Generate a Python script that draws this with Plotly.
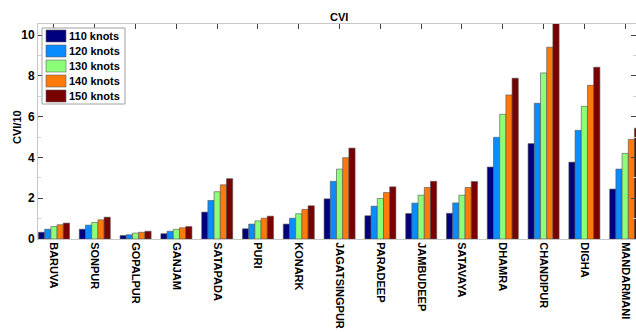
import plotly.graph_objects as go

sites = ["BARUVA", "SONPUR", "GOPALPUR", "GANJAM", "SATAPADA", "PURI", "KONARK",
         "JAGATSINGPUR", "PARADEEP", "JAMBUDEEP", "SATAVAYA", "DHAMRA",
         "CHANDIPUR", "DIGHA", "MANDARMANI"]

knots_110 = [0.33, 0.48, 0.17, 0.26, 1.32, 0.50, 0.73, 1.97, 1.14, 1.25, 1.26, 3.53, 4.68, 3.77, 2.45]
knots_120 = [0.48, 0.68, 0.21, 0.38, 1.89, 0.73, 1.02, 2.83, 1.61, 1.76, 1.77, 4.99, 6.66, 5.33, 3.43]
knots_130 = [0.61, 0.81, 0.29, 0.47, 2.32, 0.89, 1.24, 3.43, 1.99, 2.15, 2.15, 6.12, 8.15, 6.51, 4.20]
knots_140 = [0.70, 0.94, 0.33, 0.55, 2.66, 1.02, 1.45, 3.99, 2.28, 2.53, 2.53, 7.07, 9.41, 7.54, 4.89]
knots_150 = [0.78, 1.07, 0.38, 0.61, 2.96, 1.12, 1.63, 4.46, 2.56, 2.83, 2.82, 7.89, 10.6, 8.43, 5.44]

series_names = ["110 knots", "120 knots", "130 knots", "140 knots", "150 knots"]
series_values = [knots_110, knots_120, knots_130, knots_140, knots_150]
colors = ["#00007F", "#0A8CFF", "#8CFF78", "#FF7A0A", "#7A0000"]

y_ticks = [0, 2, 4, 6, 8, 10]

W, H = 636, 332
ML, MR, MT, MB = 38, 0, 24, 93
PW, PH = W - ML - MR, H - MT - MB
FONT = "Liberation Sans, Arial, sans-serif"

fig = go.Figure()
for name, vals, col in zip(series_names, series_values, colors):
    fig.add_trace(go.Bar(x=sites, y=vals, name=name, marker_color=col,
                         marker_line=dict(color="#505050", width=0.6),
                         showlegend=False))

def px_x(px):
    return (px - ML) / PW

def px_y(py):
    return (H - MB - py) / PH

shapes = []
annotations = []
# legend box
shapes.append(dict(type="rect", xref="paper", yref="paper",
                   x0=px_x(42), x1=px_x(125), y0=px_y(104), y1=px_y(28),
                   fillcolor="white", line=dict(color="#a0a0a0", width=1), layer="above"))
for i, (name, col) in enumerate(zip(series_names, colors)):
    cy = 36 + 15 * i
    shapes.append(dict(type="rect", xref="paper", yref="paper",
                       x0=px_x(46), x1=px_x(66), y0=px_y(cy + 6), y1=px_y(cy - 6),
                       fillcolor=col, line=dict(color="#606060", width=0.6), layer="above"))
    annotations.append(dict(text="<b>" + name + "</b>", xref="paper", yref="paper",
                            x=px_x(67), y=px_y(cy),
                            xanchor="left", yanchor="middle", showarrow=False,
                            font=dict(family=FONT, size=11, color="black")))

annotations.append(dict(text="<b>CVI</b>", xref="paper", yref="paper", x=px_x(339), y=px_y(17),
                        xanchor="center", yanchor="middle", showarrow=False,
                        font=dict(family=FONT, size=11, color="black")))
annotations.append(dict(text="<b>CVI/10</b>", xref="paper", yref="paper", x=px_x(17), y=px_y(127),
                        xanchor="center", yanchor="middle", showarrow=False, textangle=-90,
                        font=dict(family=FONT, size=11, color="black")))

fig.update_layout(
    width=W, height=H,
    margin=dict(l=ML, r=MR, t=MT, b=MB, pad=0),
    paper_bgcolor="white", plot_bgcolor="white",
    barmode="group", bargap=0.24, bargroupgap=0,
    font=dict(family=FONT, size=11, color="black"),
    shapes=shapes, annotations=annotations,
    showlegend=False,
)
fig.update_xaxes(
    type="category", range=[-0.392, 14.265], tickangle=90,
    ticks="inside", ticklen=5, tickcolor="#404040", mirror="ticks",
    showline=True, linecolor="#c8c8c8", linewidth=1, layer="below traces",
    showgrid=False, automargin=False,
    tickfont=dict(family=FONT, size=11, color="black", weight="bold"),
)
fig.update_yaxes(
    range=[0, 10.55], tickvals=y_ticks, ticktext=[str(v) for v in y_ticks],
    ticks="inside", ticklen=5, tickcolor="#404040", mirror="ticks",
    showline=True, linecolor="#c8c8c8", linewidth=1, zeroline=False,
    showgrid=False, automargin=False,
    minor=dict(ticks="inside", ticklen=3, tickcolor="#d0d0d0", dtick=1, tick0=0, showgrid=False),
    tickfont=dict(family=FONT, size=12, color="black", weight="bold"),
)

fig.write_html("out.html",
               config={"displayModeBar": False},
               post_script="document.body.style.margin='0px';document.body.style.overflow='hidden';")
